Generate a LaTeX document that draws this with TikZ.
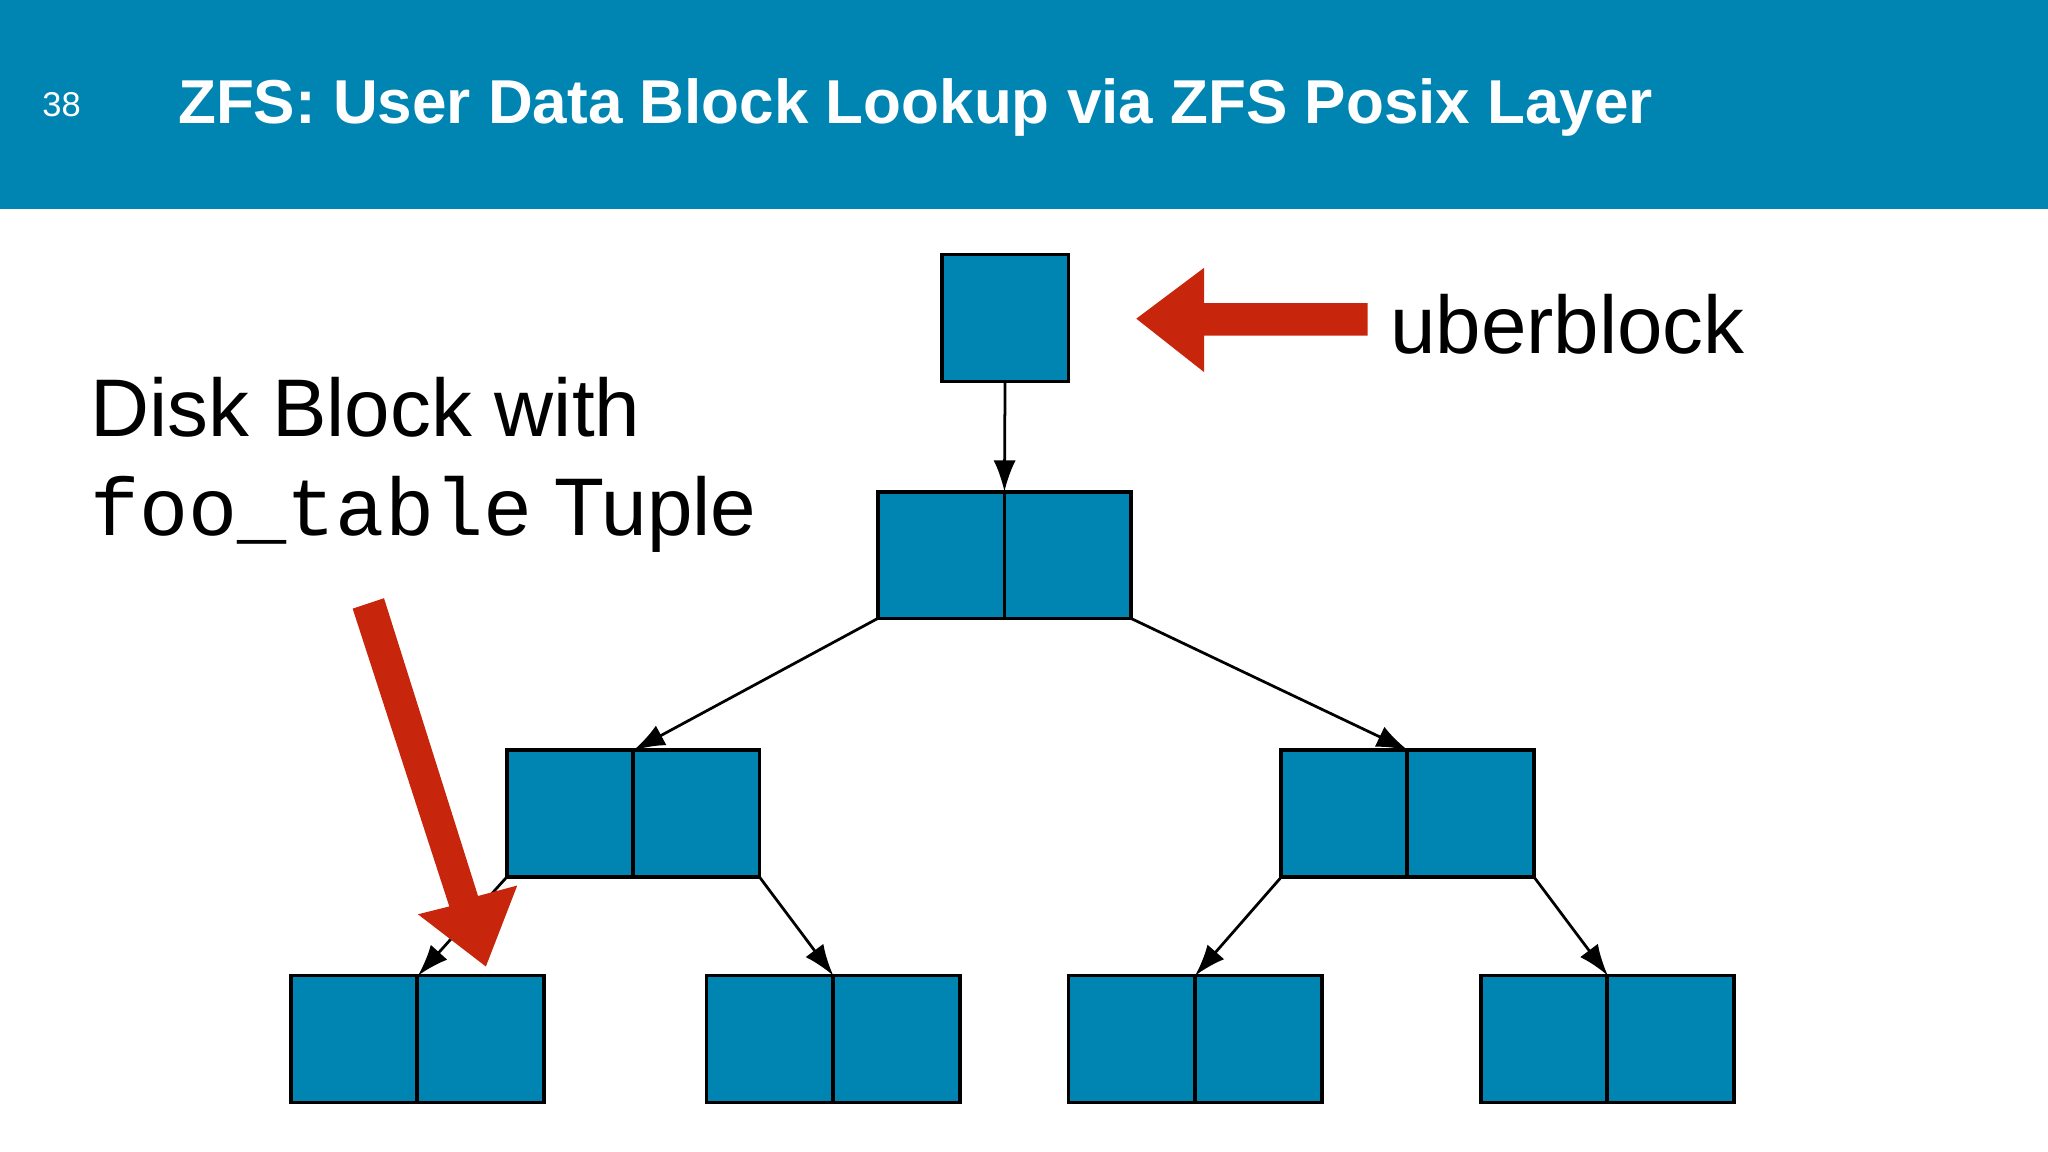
\documentclass[tikz,border=0pt]{standalone}
\usepackage{fontspec}
\setmainfont{Liberation Sans}
\setmonofont{Liberation Mono}
\usetikzlibrary{arrows.meta}
\definecolor{zfsblue}{HTML}{0085B2}
\definecolor{zfsred}{HTML}{C8260C}
\tikzset{
  cell/.style={draw=black, fill=zfsblue, line width=0.8pt, minimum size=0.97cm, inner sep=0pt, outer sep=0pt},
  link/.style={-{Latex[length=2.4mm,width=1.7mm]}, line width=0.6pt}
}
\begin{document}
\begin{tikzpicture}[x=0.01cm,y=-0.01cm]
      \useasboundingbox (0,0) rectangle (1568,882);
      % header
      \fill[zfsblue] (0,0) rectangle (1568,160);
      \node[white, anchor=west, font=\fontsize{7.5}{7.5}\selectfont] at (20,80) (num) {38};
      \node[white, anchor=west, font=\fontsize{13.5}{13.5}\selectfont\bfseries] at (124,82) (title) {ZFS: User Data Block Lookup via ZFS Posix Layer};
      % uberblock
      \node[cell] at (769.5,243.5) (U) {};
      % root
      \node[cell] at (720.5,425) (R1) {};
      \node[cell] at (817.5,425) (R2) {};
      % second level
      \node[cell] at (436.5,623) (L1) {};
      \node[cell] at (533,623) (L2) {};
      \node[cell] at (1029.5,623) (M1) {};
      \node[cell] at (1126,623) (M2) {};
      % leaves
      \node[cell] at (271.5,795.5) (A1) {};
      \node[cell] at (368,795.5) (A2) {};
      \node[cell] at (589.5,795.5) (B1) {};
      \node[cell] at (686.5,795.5) (B2) {};
      \node[cell] at (866.5,795.5) (C1) {};
      \node[cell] at (963.5,795.5) (C2) {};
      \node[cell] at (1182.5,795.5) (D1) {};
      \node[cell] at (1279,795.5) (D2) {};
      % pointers
      \draw[link] (U.south) -- (R1.north east);
      \draw[link] (R1.south west) -- (L1.north east);
      \draw[link] (R2.south east) -- (M1.north east);
      \draw[link] (L1.south west) -- (A1.north east);
      \draw[link] (L2.south east) -- (B1.north east);
      \draw[link] (M1.south west) -- (C1.north east);
      \draw[link] (M2.south east) -- (D1.north east);
      % red arrows
      \fill[zfsred] (1047,232) -- (922,232) -- (922,205) -- (870,244) -- (922,285) -- (922,257) -- (1047,257) -- cycle;
      \fill[zfsred] (270,466) -- (294,458) -- (366,686) -- (396,678) -- (372,740) -- (320,700) -- (344,694) -- cycle;
      % labels
      \node[anchor=west, font=\fontsize{17.8}{17.8}\selectfont] at (1052,248) (ub) {uberblock};
      \node[anchor=west, font=\fontsize{17.8}{17.8}\selectfont] at (57,312) (dl1) {Disk Block with};
      \node[anchor=west, font=\fontsize{17.8}{17.8}\selectfont] at (57,394) (dl2) {\texttt{foo\_table} Tuple};
\end{tikzpicture}
\end{document}
